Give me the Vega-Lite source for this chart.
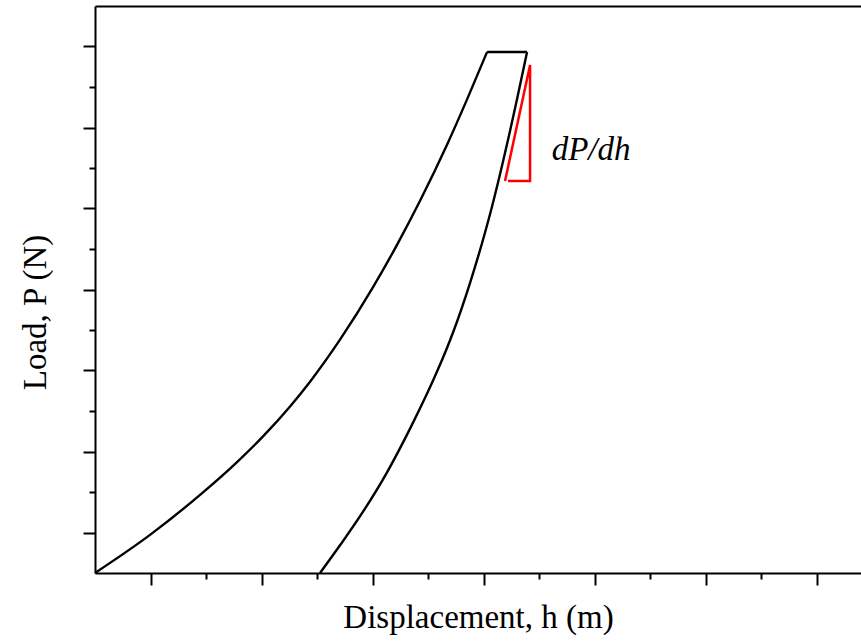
{
  "$schema": "https://vega.github.io/schema/vega-lite/v6.json",
  "width": 766,
  "height": 567,
  "autosize": "none",
  "padding": {"left": 95, "top": 6, "right": 0, "bottom": 69},
  "background": "white",
  "config": {
    "view": {"stroke": null},
    "axis": {
      "domainColor": "black",
      "domainWidth": 2,
      "tickColor": "black",
      "tickWidth": 2,
      "labels": false,
      "grid": false,
      "titleFont": "Liberation Serif",
      "titleFontWeight": "normal",
      "titleFontSize": 33,
      "titleColor": "black"
    }
  },
  "layer": [
    {
      "data": {
        "values": [
          {"curve": "loading", "h": 0, "P": 0},
          {"curve": "loading", "h": 0.991, "P": 0.941},
          {"curve": "loading", "h": 1.946, "P": 1.992},
          {"curve": "loading", "h": 2.559, "P": 2.74},
          {"curve": "loading", "h": 3.027, "P": 3.372},
          {"curve": "loading", "h": 3.514, "P": 4.112},
          {"curve": "loading", "h": 3.874, "P": 4.724},
          {"curve": "loading", "h": 4.414, "P": 5.761},
          {"curve": "loading", "h": 5.009, "P": 7.058},
          {"curve": "loading", "h": 5.441, "P": 8.103},
          {"curve": "loading", "h": 5.856, "P": 9.19},
          {"curve": "loading", "h": 6.342, "P": 10.575},
          {"curve": "loading", "h": 6.703, "P": 11.694},
          {"curve": "loading", "h": 7.063, "P": 12.864},
          {"curve": "hold", "h": 7.063, "P": 12.864},
          {"curve": "hold", "h": 7.784, "P": 12.864},
          {"curve": "unloading", "h": 4.054, "P": 0},
          {"curve": "unloading", "h": 4.414, "P": 0.684},
          {"curve": "unloading", "h": 4.829, "P": 1.514},
          {"curve": "unloading", "h": 5.261, "P": 2.486},
          {"curve": "unloading", "h": 5.676, "P": 3.565},
          {"curve": "unloading", "h": 5.91, "P": 4.22},
          {"curve": "unloading", "h": 6.072, "P": 4.698},
          {"curve": "unloading", "h": 6.162, "P": 4.973},
          {"curve": "unloading", "h": 6.45, "P": 5.938},
          {"curve": "unloading", "h": 6.757, "P": 7.166},
          {"curve": "unloading", "h": 7.027, "P": 8.408},
          {"curve": "unloading", "h": 7.153, "P": 9.051},
          {"curve": "unloading", "h": 7.351, "P": 10.16},
          {"curve": "unloading", "h": 7.477, "P": 10.916},
          {"curve": "unloading", "h": 7.604, "P": 11.703},
          {"curve": "unloading", "h": 7.784, "P": 12.864}
        ]
      },
      "mark": {"type": "line", "color": "black", "strokeWidth": 2.4, "interpolate": "monotone"},
      "encoding": {
        "x": {
          "field": "h", "type": "quantitative",
          "scale": {"domain": [0, 13.8], "nice": false, "zero": false},
          "axis": {"orient": "bottom", "values": [1, 3, 5, 7, 9, 11, 13], "tickSize": 12, "title": "Displacement, h (m)", "titlePadding": 15}
        },
        "y": {
          "field": "P", "type": "quantitative",
          "scale": {"domain": [0, 14], "nice": false, "zero": false},
          "axis": {"orient": "left", "values": [1, 3, 5, 7, 9, 11, 13], "tickSize": 12, "title": "Load, P (N)", "titlePadding": 30, "titleY": 306}
        },
        "detail": {"field": "curve"},
        "order": {"field": "h", "type": "quantitative"}
      }
    },
    {
      "data": {
        "values": [
          {"i": 0, "h": 7.387, "P": 9.679},
          {"i": 1, "h": 7.838, "P": 12.543},
          {"i": 2, "h": 7.838, "P": 9.679},
          {"i": 3, "h": 7.441, "P": 9.679}
        ]
      },
      "mark": {"type": "line", "color": "#ff0000", "strokeWidth": 2.5},
      "encoding": {
        "x": {
          "field": "h", "type": "quantitative",
          "scale": {"domain": [0, 13.8], "nice": false, "zero": false},
          "axis": {"orient": "bottom", "values": [2, 4, 6, 8, 10, 12], "tickSize": 6, "domain": false, "title": null}
        },
        "y": {
          "field": "P", "type": "quantitative",
          "scale": {"domain": [0, 14], "nice": false, "zero": false},
          "axis": {"orient": "left", "values": [2, 4, 6, 8, 10, 12], "tickSize": 6, "domain": false, "title": null}
        },
        "order": {"field": "i", "type": "quantitative"}
      }
    },
    {
      "data": {"values": [{"h": 8.937, "P": 10.444, "label": "dP/dh"}]},
      "mark": {"type": "text", "font": "Liberation Serif", "fontStyle": "italic", "fontSize": 33, "color": "black", "align": "center", "baseline": "middle"},
      "encoding": {
        "x": {
          "field": "h", "type": "quantitative",
          "scale": {"domain": [0, 13.8], "nice": false, "zero": false},
          "axis": {"orient": "top", "ticks": false, "domain": true, "title": null}
        },
        "y": {
          "field": "P", "type": "quantitative",
          "scale": {"domain": [0, 14], "nice": false, "zero": false},
          "axis": null
        },
        "text": {"field": "label"}
      }
    }
  ],
  "resolve": {"axis": {"x": "independent", "y": "independent"}}
}
